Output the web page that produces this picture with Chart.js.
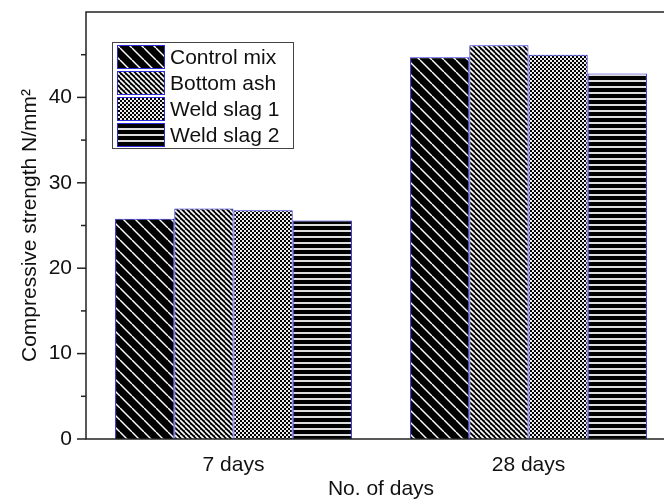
<!DOCTYPE html>
<html>
<head>
<meta charset="utf-8">
<script src="https://cdn.jsdelivr.net/npm/chart.js@4.4.1/dist/chart.umd.min.js"></script>
<style>
  html, body { margin: 0; padding: 0; background: #fff; overflow: hidden; }
  #wrap { width: 680px; height: 502px; }
</style>
</head>
<body>
<div id="wrap"><canvas id="myChart" width="680" height="502"></canvas></div>
<script>
// data
var categories = ["7 days", "28 days"];
var seriesNames = ["Control mix", "Bottom ash", "Weld slag 1", "Weld slag 2"];
var controlMix = [25.8, 44.7];
var bottomAsh = [27.0, 46.1];
var weldSlag1 = [26.8, 45.0];
var weldSlag2 = [25.6, 42.8];

var FONT = "'Liberation Sans', Arial, sans-serif";

// hatch fills like the Origin plot
function tile(w, h, draw) {
  var c = document.createElement("canvas");
  c.width = w;
  c.height = h;
  var g = c.getContext("2d");
  draw(g, w, h);
  return g.createPattern(c, "repeat");
}
function diagonal(size, lw) {
  return tile(size, size, function (g, s) {
    g.fillStyle = "#000";
    g.fillRect(0, 0, s, s);
    g.strokeStyle = "#fff";
    g.lineWidth = lw;
    g.beginPath();
    for (var a = -s; a <= s; a += s) {
      g.moveTo(a, 0);
      g.lineTo(a + s, s);
    }
    g.stroke();
  });
}
var fills = [
  diagonal(12, 1.4),
  diagonal(5, 1.6),
  tile(4, 4, function (g) {
    g.fillStyle = "#eee";
    g.fillRect(0, 0, 4, 4);
    g.fillStyle = "#000";
    g.fillRect(0, 0, 2, 2);
    g.fillRect(2, 2, 2, 2);
  }),
  tile(6, 6, function (g) {
    g.fillStyle = "#000";
    g.fillRect(0, 0, 6, 6);
    g.fillStyle = "#ddd";
    g.fillRect(0, 2, 6, 2);
  }),
];
var edge = "#2a2ad6";

var frame = {
  id: "frame",
  afterDraw: function (chart) {
    var a = chart.chartArea;
    var c = chart.ctx;
    var y = chart.scales.y;
    c.save();
    c.strokeStyle = "#222";
    c.lineWidth = 1.5;
    c.strokeRect(a.left, a.top, a.right - a.left, a.bottom - a.top);
    y.ticks.forEach(function (t) {
      if (t.value >= 50) return;
      var py = y.getPixelForValue(t.value);
      var len = t.value % 10 === 0 ? 9 : 5;
      c.beginPath();
      c.moveTo(a.left - len, py);
      c.lineTo(a.left, py);
      c.stroke();
    });
    // legend box
    var lx = 112, ly = 42, rowH = 26;
    c.lineWidth = 1;
    c.strokeStyle = "#444";
    c.fillStyle = "#fff";
    c.fillRect(lx, ly, 181, 106);
    c.strokeRect(lx + 0.5, ly + 0.5, 181, 106);
    chart.data.datasets.forEach(function (ds, i) {
      var sy = ly + 3 + i * rowH;
      c.fillStyle = ds.backgroundColor;
      c.fillRect(lx + 5, sy, 48, 24);
      c.strokeStyle = edge;
      c.strokeRect(lx + 5.5, sy + 0.5, 47, 23);
      c.fillStyle = "#111";
      c.font = "21px " + FONT;
      c.textBaseline = "middle";
      c.fillText(ds.label, lx + 58, sy + 13);
    });
    c.restore();
  },
};

var ctx = document.getElementById("myChart");
var seriesValues = [controlMix, bottomAsh, weldSlag1, weldSlag2];
new Chart(ctx, {
  type: "bar",
  data: {
    labels: categories,
    datasets: seriesNames.map(function (name, i) {
      return {
        label: name,
        data: seriesValues[i],
        backgroundColor: fills[i],
        borderColor: edge,
        borderWidth: 1,
        categoryPercentage: 0.803,
        barPercentage: 1,
      };
    }),
  },
  options: {
    responsive: false,
    animation: false,
    devicePixelRatio: 1,
    layout: { padding: { top: 12, right: 4, left: 0, bottom: 0 } },
    plugins: { legend: { display: false }, tooltip: { enabled: false } },
    scales: {
      x: {
        grid: { display: false, drawTicks: false },
        border: { display: false },
        ticks: {
          color: "#111",
          padding: 14,
          font: { family: FONT, size: 21 },
        },
        title: {
          display: true,
          text: "No. of days",
          color: "#111",
          padding: { top: 0, bottom: 0 },
          font: { family: FONT, size: 21 },
        },
        afterFit: function (s) {
          s.height = 63;
        },
      },
      y: {
        min: 0,
        max: 50,
        grid: { display: false, drawTicks: false },
        border: { display: false },
        ticks: {
          stepSize: 5,
          color: "#111",
          padding: 14,
          font: { family: FONT, size: 21 },
          callback: function (v) {
            return v % 10 === 0 && v < 50 ? v : "";
          },
        },
        title: {
          display: true,
          text: "Compressive strength N/mm²",
          color: "#111",
          padding: { top: 18, bottom: 0 },
          font: { family: FONT, size: 21 },
        },
        afterFit: function (s) {
          s.width = 86;
          s.paddingTop = 0;
          s.paddingBottom = 0;
        },
      },
    },
  },
  plugins: [frame],
});
</script>
</body>
</html>
